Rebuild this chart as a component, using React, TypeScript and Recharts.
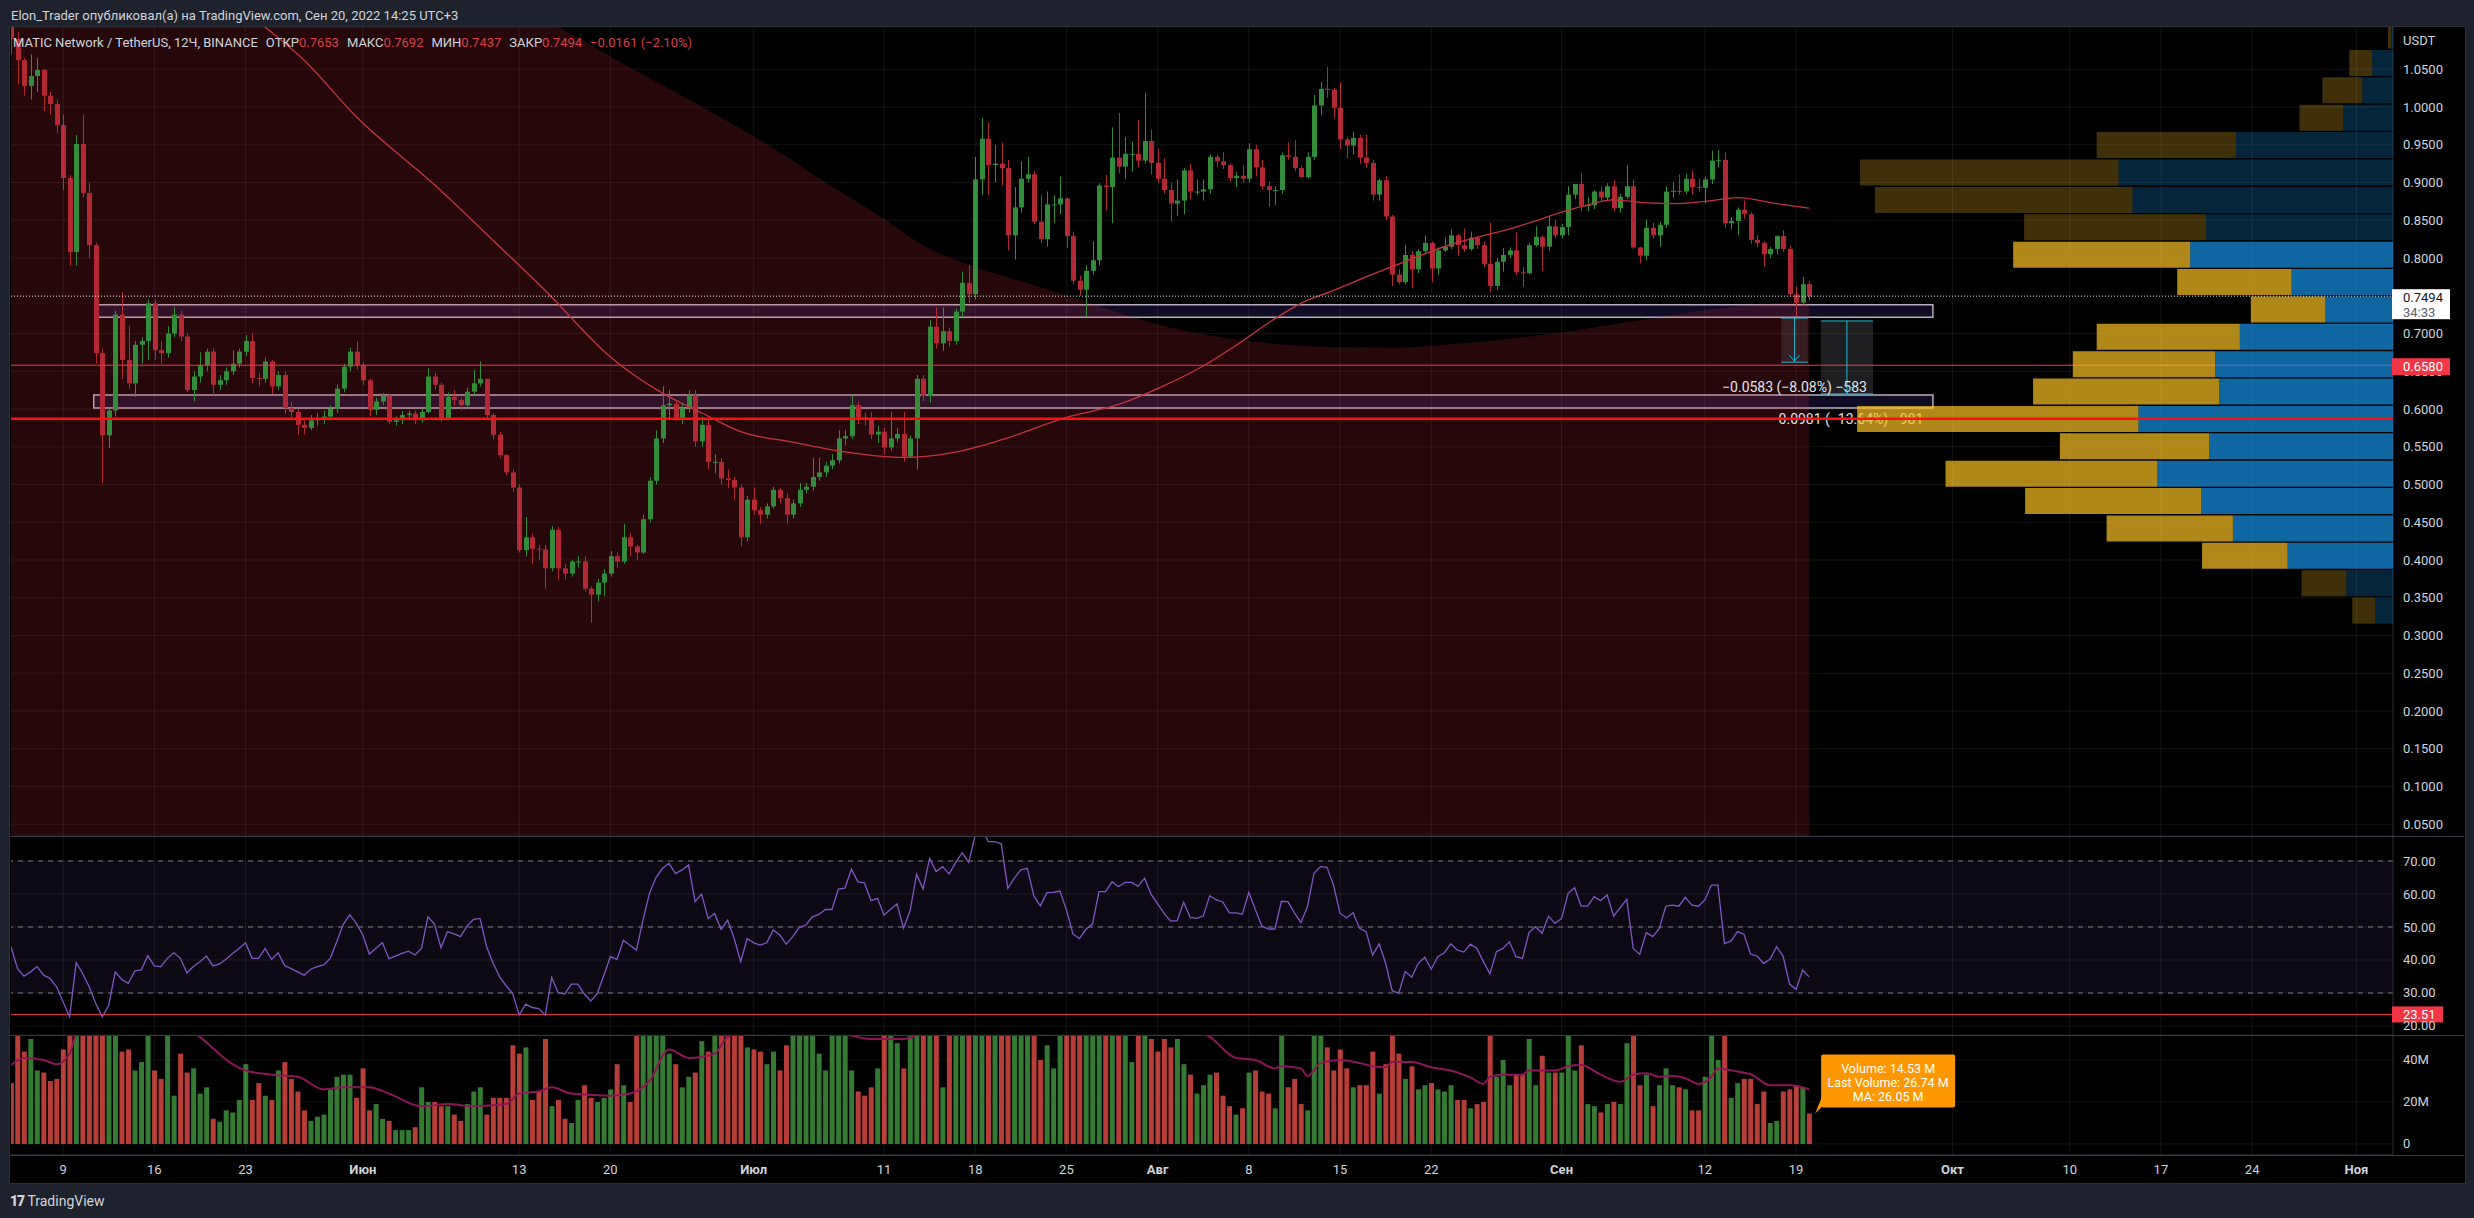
import React from 'react';
import {
  Area,
  Bar,
  CartesianGrid,
  Cell,
  ComposedChart,
  Line,
  ReferenceArea,
  ReferenceDot,
  ReferenceLine,
  XAxis,
  YAxis,
} from 'recharts';

// MATICUSDT 12h candles, index 0 = 5 May 2022 00:00 UTC, last = 20 Sep 2022 00:00
const firstOpen = 1.14;
const closes = [
  1.09, 1.062, 1.028, 1.041, 1.049, 1.015, 1.004, 0.976, 0.906, 0.808,
  0.951, 0.886, 0.817, 0.674, 0.565, 0.598, 0.725, 0.665, 0.634, 0.685,
  0.69, 0.74, 0.678, 0.674, 0.7, 0.725, 0.696, 0.625, 0.643, 0.658,
  0.676, 0.632, 0.638, 0.65, 0.66, 0.676, 0.69, 0.641, 0.64, 0.663,
  0.63, 0.645, 0.601, 0.596, 0.579, 0.575, 0.585, 0.588, 0.59, 0.6,
  0.627, 0.656, 0.676, 0.658, 0.638, 0.599, 0.61, 0.618, 0.583, 0.585,
  0.592, 0.594, 0.585, 0.596, 0.643, 0.632, 0.587, 0.616, 0.612, 0.605,
  0.623, 0.634, 0.64, 0.592, 0.566, 0.539, 0.516, 0.496, 0.413, 0.43,
  0.415, 0.414, 0.389, 0.44, 0.389, 0.382, 0.398, 0.398, 0.362, 0.354,
  0.37, 0.382, 0.405, 0.398, 0.43, 0.418, 0.41, 0.454, 0.505, 0.561,
  0.605, 0.607, 0.588, 0.601, 0.618, 0.557, 0.579, 0.53, 0.53, 0.508,
  0.506, 0.496, 0.43, 0.48, 0.466, 0.46, 0.471, 0.493, 0.482, 0.46,
  0.475, 0.493, 0.497, 0.51, 0.516, 0.525, 0.532, 0.561, 0.564, 0.605,
  0.589, 0.587, 0.566, 0.57, 0.549, 0.561, 0.567, 0.537, 0.561, 0.64,
  0.617, 0.709, 0.687, 0.703, 0.69, 0.729, 0.767, 0.752, 0.904, 0.958,
  0.923, 0.925, 0.919, 0.83, 0.867, 0.905, 0.911, 0.848, 0.825, 0.871,
  0.871, 0.879, 0.829, 0.77, 0.758, 0.783, 0.797, 0.896, 0.894, 0.933,
  0.921, 0.938, 0.938, 0.929, 0.955, 0.926, 0.905, 0.89, 0.872, 0.876,
  0.916, 0.888, 0.888, 0.891, 0.934, 0.928, 0.923, 0.906, 0.909, 0.905,
  0.944, 0.92, 0.895, 0.89, 0.89, 0.936, 0.934, 0.919, 0.907, 0.934,
  1.002, 1.024, 1.023, 0.999, 0.957, 0.949, 0.959, 0.933, 0.926, 0.884,
  0.903, 0.855, 0.778, 0.768, 0.804, 0.785, 0.809, 0.82, 0.786, 0.81,
  0.815, 0.83, 0.817, 0.812, 0.827, 0.817, 0.792, 0.763, 0.795, 0.804,
  0.81, 0.781, 0.78, 0.817, 0.828, 0.815, 0.842, 0.83, 0.841, 0.884,
  0.898, 0.869, 0.87, 0.888, 0.88, 0.895, 0.866, 0.881, 0.895, 0.814,
  0.803, 0.84, 0.83, 0.844, 0.888, 0.889, 0.888, 0.905, 0.894, 0.893,
  0.904, 0.929, 0.93, 0.846, 0.849, 0.864, 0.858, 0.824, 0.82, 0.805,
  0.812, 0.829, 0.812, 0.752, 0.741, 0.7653, 0.7494,
];
const highs = [
  1.15, 1.1, 1.065, 1.07, 1.065, 1.05, 1.02, 1.01, 0.99, 0.91,
  0.963, 0.99, 0.9, 0.82, 0.68, 0.6, 0.73, 0.755, 0.71, 0.69,
  0.695, 0.745, 0.745, 0.69, 0.71, 0.735, 0.73, 0.7, 0.65, 0.675,
  0.68, 0.68, 0.645, 0.655, 0.678, 0.68, 0.698, 0.7, 0.648, 0.668,
  0.665, 0.65, 0.65, 0.61, 0.6, 0.585, 0.592, 0.595, 0.598, 0.605,
  0.632, 0.66, 0.681, 0.69, 0.662, 0.64, 0.615, 0.621, 0.62, 0.59,
  0.597, 0.598, 0.598, 0.6, 0.654, 0.648, 0.635, 0.622, 0.625, 0.615,
  0.628, 0.652, 0.663, 0.64, 0.595, 0.57, 0.54, 0.52, 0.5, 0.457,
  0.435, 0.42, 0.42, 0.445, 0.444, 0.395, 0.4, 0.405, 0.405, 0.365,
  0.375, 0.388, 0.412, 0.41, 0.448, 0.435, 0.42, 0.46, 0.51, 0.572,
  0.63, 0.625, 0.61, 0.608, 0.625, 0.625, 0.59, 0.585, 0.54, 0.535,
  0.52, 0.51, 0.5, 0.485, 0.496, 0.47, 0.475, 0.497, 0.495, 0.488,
  0.48, 0.502, 0.502, 0.535, 0.535, 0.53, 0.54, 0.572, 0.572, 0.618,
  0.61, 0.595, 0.596, 0.578, 0.575, 0.596, 0.575, 0.596, 0.565, 0.645,
  0.645, 0.718, 0.735, 0.735, 0.708, 0.733, 0.782, 0.79, 0.934, 0.985,
  0.98, 0.95, 0.953, 0.93, 0.894, 0.928, 0.934, 0.915, 0.884, 0.888,
  0.883, 0.908, 0.88, 0.835, 0.777, 0.79, 0.822, 0.899, 0.91, 0.973,
  0.992, 0.96, 0.954, 0.983, 1.019, 0.97, 0.945, 0.932, 0.9, 0.904,
  0.919, 0.925, 0.904, 0.904, 0.937, 0.937, 0.94, 0.925, 0.914, 0.923,
  0.952, 0.95, 0.93, 0.901, 0.895, 0.94, 0.953, 0.956, 0.922, 0.94,
  1.016, 1.033, 1.053, 1.025, 1.033, 0.96, 0.967, 0.963, 0.963, 0.93,
  0.905, 0.909, 0.857, 0.785, 0.817, 0.809, 0.812, 0.83, 0.822, 0.814,
  0.827, 0.838, 0.832, 0.839, 0.835, 0.829, 0.822, 0.847, 0.8, 0.813,
  0.814, 0.834, 0.788, 0.82, 0.842, 0.83, 0.856, 0.851, 0.845, 0.895,
  0.898, 0.913, 0.88, 0.89, 0.895, 0.899, 0.903, 0.885, 0.923, 0.904,
  0.815, 0.851, 0.847, 0.848, 0.895, 0.9, 0.911, 0.911, 0.916, 0.905,
  0.908, 0.942, 0.943, 0.94, 0.854, 0.867, 0.876, 0.86, 0.83, 0.822,
  0.815, 0.83, 0.837, 0.816, 0.762, 0.775, 0.7692,
];
const lows = [
  1.07, 1.03, 1.015, 1.01, 1.02, 0.995, 0.99, 0.965, 0.89, 0.79,
  0.79, 0.88, 0.8, 0.66, 0.502, 0.548, 0.59, 0.64, 0.627, 0.616,
  0.66, 0.665, 0.665, 0.66, 0.668, 0.695, 0.69, 0.622, 0.61, 0.635,
  0.65, 0.618, 0.625, 0.632, 0.645, 0.655, 0.67, 0.634, 0.63, 0.635,
  0.62, 0.625, 0.594, 0.588, 0.566, 0.566, 0.572, 0.578, 0.58, 0.585,
  0.595, 0.622, 0.65, 0.652, 0.632, 0.59, 0.592, 0.605, 0.58, 0.578,
  0.58, 0.585, 0.58, 0.582, 0.594, 0.625, 0.583, 0.585, 0.605, 0.598,
  0.6, 0.618, 0.63, 0.588, 0.56, 0.535, 0.512, 0.49, 0.41, 0.405,
  0.395, 0.4, 0.362, 0.385, 0.374, 0.374, 0.378, 0.39, 0.358, 0.317,
  0.345, 0.352, 0.378, 0.39, 0.395, 0.405, 0.4, 0.408, 0.45, 0.5,
  0.555, 0.585, 0.585, 0.58, 0.595, 0.55, 0.55, 0.52, 0.515, 0.5,
  0.495, 0.48, 0.418, 0.425, 0.46, 0.448, 0.455, 0.468, 0.475, 0.448,
  0.455, 0.47, 0.488, 0.492, 0.505, 0.51, 0.52, 0.528, 0.552, 0.56,
  0.58, 0.578, 0.56, 0.555, 0.54, 0.545, 0.556, 0.53, 0.535, 0.52,
  0.61, 0.608, 0.68, 0.677, 0.682, 0.685, 0.72, 0.74, 0.745, 0.884,
  0.884, 0.9, 0.896, 0.81, 0.798, 0.86, 0.9, 0.845, 0.82, 0.815,
  0.846, 0.858, 0.813, 0.765, 0.75, 0.722, 0.778, 0.79, 0.863, 0.846,
  0.912, 0.905, 0.914, 0.92, 0.925, 0.911, 0.9, 0.885, 0.848, 0.856,
  0.858, 0.878, 0.884, 0.876, 0.885, 0.921, 0.918, 0.902, 0.894, 0.9,
  0.9, 0.908, 0.891, 0.868, 0.87, 0.885, 0.93, 0.915, 0.906, 0.905,
  0.93, 0.989, 1.012, 0.985, 0.944, 0.932, 0.937, 0.925, 0.92, 0.876,
  0.876, 0.85, 0.763, 0.765, 0.765, 0.76, 0.78, 0.805, 0.768, 0.778,
  0.808, 0.812, 0.803, 0.808, 0.81, 0.812, 0.788, 0.755, 0.757, 0.782,
  0.8, 0.777, 0.762, 0.778, 0.815, 0.783, 0.81, 0.826, 0.826, 0.83,
  0.878, 0.862, 0.862, 0.865, 0.875, 0.876, 0.862, 0.86, 0.878, 0.812,
  0.793, 0.797, 0.826, 0.815, 0.84, 0.88, 0.884, 0.885, 0.884, 0.888,
  0.872, 0.898, 0.92, 0.84, 0.838, 0.83, 0.852, 0.819, 0.814, 0.789,
  0.8, 0.805, 0.808, 0.75, 0.724, 0.738, 0.7437,
];
// volume per candle, millions (bars above ~52M run off the pane)
const volumes = [
  29, 55, 44, 50, 35, 34, 30, 31, 45, 58,
  85, 70, 80, 110, 120, 75, 90, 44, 45, 35,
  39, 55, 35, 31, 53, 23, 43, 34, 36, 24,
  27, 12, 10.6, 16, 15, 21, 38, 21, 29, 23,
  21, 35, 39, 31, 25, 16, 11, 13, 14, 26,
  32, 33, 33, 22, 36, 16, 19, 12, 11, 6.6,
  6.6, 6.6, 8, 27, 20, 20, 18, 18, 14, 11,
  19, 25, 27, 14, 22, 22, 22, 47, 43, 46,
  21, 25, 50, 18, 21, 12, 10, 21, 28, 22,
  20, 22, 26, 38, 28, 20, 55, 60, 70, 75,
  65, 43, 38, 27, 32, 34, 49, 44, 55, 56,
  54, 58, 62, 46, 45, 44, 38, 44, 35, 47,
  55, 58, 54, 56, 43, 35, 55, 60, 58, 35,
  25, 23, 27, 36, 55, 60, 48, 36, 60, 80,
  65, 95, 60, 27, 55, 60, 75, 65, 140, 120,
  100, 70, 75, 95, 80, 70, 60, 60, 40, 47,
  36, 58, 65, 75, 60, 70, 58, 90, 65, 80,
  70, 60, 39, 55, 58, 50, 44, 50, 46, 50,
  38, 33, 24, 28, 33, 34, 23, 18, 14, 17,
  34, 35, 25, 24, 17, 60, 27, 31, 19, 16,
  70, 60, 46, 35, 45, 36, 27, 28, 28, 44,
  24, 38, 80, 43, 31, 37, 26, 28, 29, 26,
  25, 28, 21, 21, 17, 19, 20, 60, 32, 40,
  28, 33, 33, 50, 28, 42, 34, 34, 34, 55,
  35, 47, 19, 18, 15, 19, 20, 19, 48, 55,
  28, 33, 18, 28, 36, 28, 27, 26, 16, 16,
  32, 60, 40, 65, 22, 29, 31, 31, 19, 25,
  10, 11, 25, 26, 28, 26.74, 14.53,
];
const rsiValues = [
  44, 37.4, 35.1, 36.4, 38, 35.4, 34.4, 31.9, 27.3, 22.8,
  39.2, 35.9, 31.9, 26.8, 22.8, 26.3, 36.4, 34.1, 32.9, 36.7,
  37, 41.3, 38.2, 38, 40.5, 42.2, 40.5, 36.1, 38, 39.5,
  41.2, 38.2, 38.8, 40.2, 42, 43.5, 45.2, 40.5, 40.5, 43.5,
  40.2, 42.2, 38.3, 37.4, 36.4, 35.4, 37.2, 38, 38.5, 40.5,
  45.5, 50.8, 53.7, 51.1, 47.6, 41.8, 43.5, 45.3, 40.4, 41.2,
  42, 42.7, 41.5, 43.5, 53.1, 50.9, 43.7, 48.6, 47.9, 47.1,
  50.3, 52.3, 52.6, 44, 39, 34.9, 32.2, 29.9, 23.3, 26.6,
  25.6, 25.3, 23.3, 34.7, 30.1, 29.7, 32.7, 32.7, 29.7, 27.6,
  29.9, 35.4, 41, 40.2, 46, 44.5, 43, 52.1, 60.2, 65,
  67.8, 69.3, 66.2, 67.3, 68.8, 57.7, 60, 52.6, 54.1, 49.3,
  52.1, 46.5, 39.5, 46.5, 45.2, 44.5, 45.2, 49.1, 47.6, 44.8,
  47.1, 49.9, 50.6, 53.1, 53.8, 55.3, 55.3, 61.5, 61.8,
  67.5, 63.7, 63.4, 58, 58.7, 53.6, 55.4, 57, 49.6, 54.9,
  66, 61.5, 70.8, 66.8, 68.3, 66.1, 69.5, 72.5, 69.6, 77.9,
  80, 75.9, 75.9, 75.2, 61.7, 64.8, 67.3, 67.8, 59.4, 56.4,
  60.4, 60.5, 60.9, 55.2, 47.9, 46.5, 49.3, 50.9, 60.7, 60.7,
  63.7, 62.2, 63.5, 63.5, 62.4, 64.8, 59.9, 57, 54.1, 51.8,
  51.9, 57.5, 52.9, 52.6, 53.3, 59.5, 58.2, 57.6, 54.3, 54.3,
  53.9, 60.5, 55.2, 50.3, 49.4, 49.4, 57.8, 57.7, 54.3, 51.3,
  56.2, 66.3, 68.3, 68.1, 62.7, 54.1, 52.8, 54.3, 49.6, 48.6,
  41.5, 44.9, 39, 30.7, 29.9, 36.5, 34.8, 39, 40.8, 37.2,
  41, 42.2, 44.9, 43, 42.4, 44.8, 43.5, 39.5, 35.8, 42.5,
  43.5, 45.5, 41, 40.5, 48.3, 50.1, 48.1, 53.3, 51.1, 52.6,
  60.2, 61.9, 56.3, 56.3, 59.2, 58, 59.7, 53.3, 55.9, 58.4,
  43.5, 41.7, 48.3, 47.1, 49.6, 56.3, 56.6, 56.3, 59, 56.6,
  56.3, 58.2, 62.7, 62.7, 45, 45.7, 48.6, 47.8, 41.8, 41.2,
  39, 40.2, 44, 41.2, 32.7, 31.1, 37, 34.9,
];

// [candle index, value]
const priceMa = [
  [30, 1.17], [39, 1.106], [45, 1.062], [53, 0.987], [65, 0.897], [75, 0.815],
  [82, 0.757], [92, 0.669], [100, 0.621], [106, 0.595], [112, 0.57], [120, 0.556],
  [126, 0.546], [137, 0.536], [145, 0.543], [152, 0.559], [162, 0.589], [170, 0.606],
  [177, 0.631], [183, 0.657], [188, 0.684], [193, 0.714], [198, 0.74], [203, 0.757],
  [208, 0.775], [213, 0.792], [220, 0.815], [231, 0.841], [241, 0.868], [246, 0.877],
  [251, 0.873], [256, 0.872], [261, 0.876], [265, 0.88], [271, 0.872], [276, 0.866],
];
const volumeMa = [
  [0, 37.6], [2, 41], [5, 40], [7, 38], [9, 43], [10, 52], [14, 62], [20, 64],
  [26, 58], [29, 51], [34, 38], [36, 35], [40, 33], [44, 32], [48, 26], [51, 27],
  [55, 27], [58, 24], [63, 18], [67, 19], [71, 18], [76, 19], [78, 24], [81, 25],
  [83, 27], [86, 24], [92, 23], [95, 24], [98, 30], [101, 45], [104, 41], [108, 43],
  [110, 51], [115, 55], [121, 56], [127, 53], [132, 50], [137, 50], [142, 58],
  [150, 72], [160, 68], [170, 62], [180, 56], [184, 51], [188, 41], [191, 40],
  [194, 36], [195, 37], [198, 36], [199, 32.4], [201, 38.5], [204, 40], [207, 38.5],
  [209, 37], [211, 36.5], [212, 39], [215, 39], [218, 36.5], [221, 35], [224, 31.7],
  [226, 28.6], [227, 32], [229, 33], [232, 33], [233, 35], [237, 35], [239, 37],
  [241, 37.6], [244, 33], [247, 29.6], [249, 33], [251, 33.7], [253, 32], [255, 32.4],
  [257, 31.3], [259, 28.6], [261, 32], [262, 36], [265, 34.5], [267, 33.3], [270, 28],
  [273, 28], [276, 26.05],
];
// upper edge of the dark red shaded zone
const shadeEdge = [
  [0, 1.44], [40, 1.28], [70, 1.162], [84, 1.106], [93, 1.062], [104, 1.01],
  [116, 0.951], [125, 0.9], [134, 0.852], [140, 0.817], [148, 0.788], [157, 0.764],
  [165, 0.742], [172, 0.722], [183, 0.699], [193, 0.687], [203, 0.682], [213, 0.681],
  [220, 0.685], [236, 0.699], [251, 0.719], [266, 0.737], [276, 0.743],
];

// legend quote as printed on the chart
const quote = { open: 0.7653, high: 0.7692, low: 0.7437, close: 0.7494, change: -0.0161, changePct: -2.1 };

// time axis: candle index of each label
const dateTickIndex = [8, 22, 36, 54, 78, 92, 114, 134, 148, 162, 176, 190, 204, 218, 238, 260, 274, 298, 316, 330, 344, 360];
const dateTickText = ['9', '16', '23', 'Июн', '13', '20', 'Июл', '11', '18', '25', 'Авг', '8', '15', '22', 'Сен', '12', '19', 'Окт', '10', '17', '24', 'Ноя'];
const monthNames = ['Июн', 'Июл', 'Авг', 'Сен', 'Окт', 'Ноя'];

const priceTicks = [0.05, 0.1, 0.15, 0.2, 0.25, 0.3, 0.35, 0.4, 0.45, 0.5, 0.55, 0.6, 0.65, 0.7, 0.75, 0.8, 0.85, 0.9, 0.95, 1.0, 1.05];
const rsiTicks = [20, 30, 40, 50, 60, 70];
const volumeTicks = [0, 20, 40];

// volume profile rows, bottom to top
const vpLow = 0.3152;
const vpStep = 0.03627;
const vpUpVol = [18, 47, 106, 161, 193, 237, 185, 256, 175, 179, 154, 68, 102, 204, 188, 262, 276, 158, 50, 31, 21, 2];
const vpDownVol = [23, 45, 86, 127, 177, 213, 150, 283, 187, 143, 144, 75, 115, 178, 183, 259, 260, 140, 44, 40, 23, 3];
const vpValueArea = [2, 13];

// drawings
const boxes = [
  { from: 12.9, to: 295, top: 0.738, bottom: 0.7215 },
  { from: 12.7, to: 295, top: 0.6186, bottom: 0.6013 },
];
const measures = [
  { from: 271.7, to: 275.8, top: 0.7205, bottom: 0.662, text: '−0.0583 (−8.08%) −583', shade: 0.16 },
  { from: 277.8, to: 285.8, top: 0.7166, bottom: 0.62, text: '−0.0981 (−13.64%) −981', shade: 0.2 },
];
const alertLine = 0.658;
const supportLine = 0.587;
const rsiLevel = 23.51;
const countdown = '34:33';

const FONT = 'Roboto, "Noto Sans", Arial, sans-serif';
const UP = '#338c39';
const DOWN = '#b22833';
const VOL_UP = '#347a32';
const VOL_DOWN = '#b73e38';
const TEXT = '#d1d4dc';
const FRAME = '#1e222d';
const BORDER = '#2a2e39';
const GRID = 'rgba(255,255,255,0.07)';
const CYAN = '#22b8d4';

const X_MAX = 365.62;
const P_MIN = 0.03444;
const P_MAX = 1.10596;
const R_MIN = 17.27;
const R_MAX = 77.58;
const V_MIN = -5.24;
const V_MAX = 51.9;

const LEFT = 11;
const CHART_W = 2453;
const AXIS_W = 71;
const MAIN_TOP = 27;
const MAIN_H = 809;
const RSI_TOP = 836;
const RSI_H = 199;
const VOL_TOP = 1035;
const VOL_H = 147;

const toMap = (pairs: number[][]) => new Map(pairs.map(([k, v]) => [k, v]));
const maMap = toMap(priceMa);
const vmaMap = toMap(volumeMa);
const shadeMap = toMap(shadeEdge);

const rows = closes.map((c, i) => {
  const o = i === 0 ? firstOpen : closes[i - 1];
  return {
    i,
    o,
    c,
    h: highs[i],
    l: lows[i],
    range: [lows[i], highs[i]],
    vol: volumes[i],
    rsi: rsiValues[i],
    ma: maMap.get(i),
    vma: vmaMap.get(i),
    shade: shadeMap.get(i),
  };
});
const last = rows[rows.length - 1];

const vpRows = vpUpVol.map((u, k) => ({
  mid: vpLow + (k + 0.5) * vpStep,
  up: u,
  down: vpDownVol[k],
  inValueArea: k >= vpValueArea[0] && k <= vpValueArea[1],
}));
const vpMax = Math.max(...vpRows.map((r) => r.up + r.down));

const Candle = (props: any) => {
  const { x, y, width, height, payload } = props;
  if (x == null || y == null || !payload) return null;
  const top = Math.min(y, y + height);
  const bottom = Math.max(y, y + height);
  const span = payload.h - payload.l || 1;
  const toY = (v: number) => top + ((payload.h - v) / span) * (bottom - top);
  const color = payload.c >= payload.o ? UP : DOWN;
  const bodyTop = toY(Math.max(payload.o, payload.c));
  const bodyBottom = toY(Math.min(payload.o, payload.c));
  const mid = Math.round(x + width / 2) + 0.5;
  return (
    <g>
      <line x1={mid} x2={mid} y1={top} y2={bottom} stroke={color} strokeWidth={1} />
      <rect x={mid - 2.5} y={bodyTop} width={5} height={Math.max(1, bodyBottom - bodyTop)} fill={color} />
    </g>
  );
};

const axisTick = (fmt: (v: number) => string) => (props: any) => (
  <text x={props.x} y={props.y} dy={4.5} fill={TEXT} fontSize={13} fontFamily={FONT} textAnchor="start">
    {fmt(props.payload.value)}
  </text>
);

const DateTick = (props: any) => {
  const k = dateTickIndex.indexOf(props.payload.value);
  const label = dateTickText[k] ?? '';
  return (
    <text
      x={props.x}
      y={props.y + 14}
      dy="0.35em"
      textAnchor="middle"
      fill={TEXT}
      fontSize={13}
      fontWeight={monthNames.includes(label) ? 700 : 400}
      fontFamily={FONT}
    >
      {label}
    </text>
  );
};

const MeasureEnd = ({ cx, cy, text }: any) => (
  <g>
    <polyline points={`${cx - 5},${cy - 7} ${cx},${cy - 1} ${cx + 5},${cy - 7}`} fill="none" stroke={CYAN} strokeWidth={1} />
    <text x={cx} y={cy + 25} dy="0.35em" textAnchor="middle" fill="#e0e3eb" fontSize={14} fontFamily={FONT}>
      {text}
    </text>
  </g>
);

const LastPriceBadge = ({ cx, cy }: any) => (
  <g>
    <rect x={cx - 1} y={cy - 7} width={58} height={30} fill="#ffffff" />
    <text x={cx + 10} y={cy + 1} dy="0.35em" fill="#131722" fontSize={13} fontFamily={FONT}>
      {last.c.toFixed(4)}
    </text>
    <text x={cx + 10} y={cy + 16} dy="0.35em" fill="#5d606b" fontSize={13} fontFamily={FONT}>
      {countdown}
    </text>
  </g>
);

const redBadge = (text: string, up: number, down: number, w: number) => (props: any) => (
  <g>
    <rect x={props.cx - 1} y={props.cy - up} width={w} height={up + down} fill="#f23645" />
    <text x={props.cx + 10} y={props.cy + (down - up) / 2} dy="0.35em" fill="#ffffff" fontSize={13} fontFamily={FONT}>
      {text}
    </text>
  </g>
);

const VolumeCallout = ({ cx, cy }: any) => {
  const prev = rows[rows.length - 2];
  const lines = [
    `Volume: ${last.vol.toFixed(2)} M`,
    `Last Volume: ${prev.vol.toFixed(2)} M`,
    `MA: ${(vmaMap.get(last.i) ?? 0).toFixed(2)} M`,
  ];
  return (
    <g>
      <path d={`M${cx + 6},${cy} L${cx + 13},${cy - 17} L${cx + 13},${cy - 7} Z`} fill="#ff9800" />
      <rect x={cx + 12} y={cy - 59} width={134} height={53} rx={2} fill="#ff9800" />
      {lines.map((t, k) => (
        <text key={t} x={cx + 79} y={cy - 45 + k * 14} dy="0.35em" textAnchor="middle" fill="#ffffff" fontSize={12.5} fontFamily={FONT}>
          {t}
        </text>
      ))}
    </g>
  );
};

const zero = { top: 0, right: 0, bottom: 0, left: 0 };
const overlayMargin = { top: 0, right: AXIS_W, bottom: 0, left: 0 };

const gridLinesX = dateTickIndex.map((t) => <ReferenceLine key={`g${t}`} x={t} stroke={GRID} />);

const layer: React.CSSProperties = { position: 'absolute', left: 0, top: 0 };

const signed = (v: number, digits: number) => `${v < 0 ? '−' : '+'}${Math.abs(v).toFixed(digits)}`;

export default function App() {
  const legendItems = [
    ['ОТКР', quote.open.toFixed(4)],
    ['МАКС', quote.high.toFixed(4)],
    ['МИН', quote.low.toFixed(4)],
    ['ЗАКР', quote.close.toFixed(4)],
  ];

  return (
    <div
      style={{
        position: 'fixed',
        left: 0,
        top: 0,
        width: 2474,
        height: 1218,
        background: FRAME,
        fontFamily: FONT,
        overflow: 'hidden',
      }}
    >
      <div style={{ position: 'absolute', left: 11, top: 7, fontSize: 13, lineHeight: '18px', color: TEXT, whiteSpace: 'nowrap' }}>
        Elon_Trader опубликовал(а) на TradingView.com, Сен 20, 2022 14:25 UTC+3
      </div>

      <div
        style={{
          position: 'absolute',
          left: 9,
          top: 26,
          width: 2455,
          height: 1156,
          background: '#000',
          border: `1px solid ${BORDER}`,
        }}
      />

      {/* price pane */}
      <div style={{ position: 'absolute', left: LEFT, top: MAIN_TOP, width: CHART_W, height: MAIN_H, overflow: 'hidden' }}>
        <div style={layer}>
          <ComposedChart width={CHART_W} height={MAIN_H} data={rows} margin={zero}>
            <CartesianGrid vertical={false} stroke={GRID} />
            <XAxis type="number" dataKey="i" domain={[0, X_MAX]} allowDataOverflow hide />
            <YAxis
              orientation="right"
              width={AXIS_W}
              type="number"
              domain={[P_MIN, P_MAX]}
              allowDataOverflow
              ticks={priceTicks}
              interval={0}
              tickSize={0}
              tickMargin={10}
              tickLine={false}
              axisLine={{ stroke: BORDER }}
              tick={axisTick((v) => v.toFixed(4))}
            />
            {gridLinesX}
            {boxes.map((b, k) => (
              <ReferenceArea
                key={`box${k}`}
                x1={b.from}
                x2={b.to}
                y1={b.bottom}
                y2={b.top}
                fill="#6450f0"
                fillOpacity={0.15}
                stroke="#d8cadd"
                strokeOpacity={0.85}
                strokeWidth={1.5}
              />
            ))}
            <Area
              dataKey="shade"
              type="monotone"
              connectNulls
              stroke="none"
              fill="#f23645"
              fillOpacity={0.155}
              isAnimationActive={false}
            />
            <ReferenceLine y={alertLine} stroke="#f23645" strokeWidth={1} />
            <Line dataKey="ma" type="monotone" connectNulls stroke="#c8323c" strokeWidth={1.3} dot={false} isAnimationActive={false} />
            <Bar dataKey="range" barSize={5} shape={(p: any) => <Candle {...p} />} isAnimationActive={false} />
            {measures.map((m, k) => {
              const mid = (m.from + m.to) / 2;
              return [
                <ReferenceArea key={`ma${k}`} x1={m.from} x2={m.to} y1={m.bottom} y2={m.top} fill="#9598a1" fillOpacity={m.shade} stroke="none" />,
                <ReferenceLine key={`mt${k}`} segment={[{ x: m.from, y: m.top }, { x: m.to, y: m.top }]} stroke={CYAN} />,
                <ReferenceLine key={`mb${k}`} segment={[{ x: m.from, y: m.bottom }, { x: m.to, y: m.bottom }]} stroke={CYAN} />,
                <ReferenceLine key={`mv${k}`} segment={[{ x: mid, y: m.top }, { x: mid, y: m.bottom }]} stroke={CYAN} />,
                <ReferenceDot key={`md${k}`} x={mid} y={m.bottom} r={0} shape={(p: any) => <MeasureEnd {...p} text={m.text} />} />,
              ];
            })}
          </ComposedChart>
        </div>

        {/* volume profile */}
        <div style={layer}>
          <ComposedChart layout="vertical" width={CHART_W} height={MAIN_H} data={vpRows} margin={overlayMargin}>
            <XAxis type="number" domain={[0, vpMax / 0.225]} reversed allowDataOverflow hide />
            <YAxis type="number" dataKey="mid" domain={[P_MIN, P_MAX]} reversed allowDataOverflow hide />
            <Bar dataKey="up" stackId="vp" barSize={26} isAnimationActive={false}>
              {vpRows.map((r, k) => (
                <Cell key={k} fill="#1592e6" fillOpacity={r.inValueArea ? 0.7 : 0.25} />
              ))}
            </Bar>
            <Bar dataKey="down" stackId="vp" barSize={26} isAnimationActive={false}>
              {vpRows.map((r, k) => (
                <Cell key={k} fill="#fbc123" fillOpacity={r.inValueArea ? 0.7 : 0.25} />
              ))}
            </Bar>
          </ComposedChart>
        </div>

        {/* lines and price labels on top */}
        <div style={layer}>
          <ComposedChart width={CHART_W} height={MAIN_H} data={rows} margin={overlayMargin}>
            <XAxis type="number" dataKey="i" domain={[0, X_MAX]} allowDataOverflow hide />
            <YAxis type="number" domain={[P_MIN, P_MAX]} allowDataOverflow hide />
            <ReferenceLine y={supportLine} stroke="#ff1010" strokeWidth={2.5} />
            <ReferenceLine y={last.c} stroke="#ffffff" strokeOpacity={0.85} strokeDasharray="1 2" />
            <ReferenceDot x={X_MAX} y={last.c} r={0} shape={LastPriceBadge} />
            <ReferenceDot x={X_MAX} y={alertLine} r={0} shape={redBadge(alertLine.toFixed(4), 7, 10, 58)} />
          </ComposedChart>
        </div>

        <div style={{ position: 'absolute', left: 12 - LEFT + 1, top: 34 - MAIN_TOP, fontSize: 13, lineHeight: '18px', whiteSpace: 'nowrap', color: TEXT }}>
          MATIC Network / TetherUS, 12Ч, BINANCE
          {legendItems.map(([k, v]) => (
            <span key={k} style={{ marginLeft: 8 }}>
              {k}
              <span style={{ color: '#d93d4a' }}>{v}</span>
            </span>
          ))}
          <span style={{ marginLeft: 8, color: '#d93d4a' }}>
            {signed(quote.change, 4)} ({signed(quote.changePct, 2)}%)
          </span>
        </div>
        <div style={{ position: 'absolute', left: 2403 - LEFT, top: 32 - MAIN_TOP, fontSize: 13, lineHeight: '18px', color: TEXT }}>
          USDT
        </div>
      </div>

      {/* RSI pane */}
      <div style={{ position: 'absolute', left: LEFT, top: RSI_TOP, width: CHART_W, height: RSI_H, overflow: 'hidden' }}>
        <ComposedChart width={CHART_W} height={RSI_H} data={rows} margin={zero}>
          <CartesianGrid vertical={false} stroke={GRID} />
          <XAxis type="number" dataKey="i" domain={[0, X_MAX]} allowDataOverflow hide />
          <YAxis
            orientation="right"
            width={AXIS_W}
            type="number"
            domain={[R_MIN, R_MAX]}
            allowDataOverflow
            ticks={rsiTicks}
            interval={0}
            tickSize={0}
            tickMargin={10}
            tickLine={false}
            axisLine={{ stroke: BORDER }}
            tick={axisTick((v) => v.toFixed(2))}
          />
          {gridLinesX}
          <ReferenceArea y1={30} y2={70} fill="#7e57c2" fillOpacity={0.1} stroke="none" />
          {[70, 50, 30].map((v) => (
            <ReferenceLine key={v} y={v} stroke="#787b86" strokeDasharray="5 5" />
          ))}
          <ReferenceLine y={rsiLevel} stroke="#f23645" />
          <Line dataKey="rsi" type="linear" stroke="#7e57c2" strokeWidth={1.3} dot={false} isAnimationActive={false} />
          <ReferenceDot x={X_MAX} y={rsiLevel} r={0} shape={redBadge(rsiLevel.toFixed(2), 8, 8, 51)} />
        </ComposedChart>
      </div>

      {/* volume pane + time axis */}
      <div style={{ position: 'absolute', left: LEFT, top: VOL_TOP, width: CHART_W, height: VOL_H, overflow: 'hidden' }}>
        <ComposedChart width={CHART_W} height={VOL_H} data={rows} margin={zero}>
          <CartesianGrid vertical={false} stroke={GRID} />
          <XAxis
            type="number"
            dataKey="i"
            domain={[0, X_MAX]}
            allowDataOverflow
            ticks={dateTickIndex}
            interval={0}
            tickSize={0}
            tickMargin={0}
            height={27}
            tickLine={false}
            axisLine={{ stroke: BORDER }}
            tick={DateTick}
          />
          <YAxis
            orientation="right"
            width={AXIS_W}
            type="number"
            domain={[V_MIN, V_MAX]}
            allowDataOverflow
            ticks={volumeTicks}
            interval={0}
            tickSize={0}
            tickMargin={10}
            tickLine={false}
            axisLine={{ stroke: BORDER }}
            tick={axisTick((v) => (v === 0 ? '0' : `${v}M`))}
          />
          {gridLinesX}
          <Bar dataKey="vol" barSize={5} isAnimationActive={false}>
            {rows.map((r) => (
              <Cell key={r.i} fill={r.c >= r.o ? VOL_UP : VOL_DOWN} />
            ))}
          </Bar>
          <Line dataKey="vma" type="monotone" connectNulls stroke="#8e1656" strokeWidth={2} dot={false} isAnimationActive={false} />
          <ReferenceDot x={last.i} y={last.vol} r={0} shape={VolumeCallout} />
        </ComposedChart>
      </div>

      {/* pane separators */}
      {[RSI_TOP, VOL_TOP, VOL_TOP + 120].map((y) => (
        <div key={y} style={{ position: 'absolute', left: 10, top: y, width: 2454, height: 1, background: '#363a45' }} />
      ))}

      <div style={{ position: 'absolute', left: 10, top: 1192, fontSize: 14, lineHeight: '18px', color: TEXT, whiteSpace: 'nowrap' }}>
        <span style={{ fontWeight: 900, letterSpacing: -1 }}>17</span> TradingView
      </div>
    </div>
  );
}
